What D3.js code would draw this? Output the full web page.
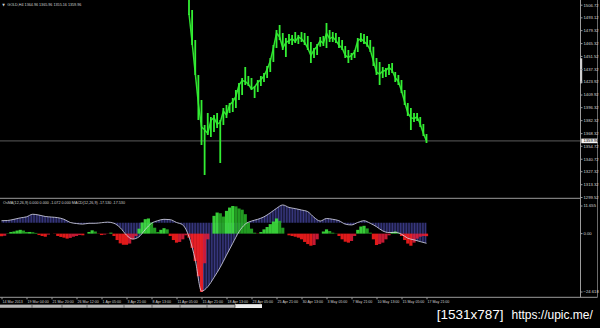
<!DOCTYPE html>
<html><head><meta charset="utf-8">
<script src="https://cdn.jsdelivr.net/npm/d3@7"></script>
<style>html,body{margin:0;padding:0;background:#000;} svg{display:block}</style>
</head><body><svg id="c" width="600" height="328"></svg>
<script>
// ---------- DATA ----------
const symbolInfo = "GOLD,H4  1364.96 1365.96 1355.16 1359.96";
const indicatorInfo = "OsMA(12,26,9) 0.000 0.000 -1.072 0.000  MACD(12,26,9) -17.530 -17.530";
const dateLabels = ["14 Mar 2013","19 Mar 04:00","21 Mar 20:00","26 Mar 12:00","1 Apr 05:00","3 Apr 21:00",
  "8 Apr 13:00","11 Apr 05:00","15 Apr 21:00","18 Apr 13:00","23 Apr 05:00","25 Apr 21:00","30 Apr 13:00",
  "3 May 05:00","7 May 21:00","10 May 13:00","15 May 05:00","17 May 21:00"];
const dateTickBars = [0,16,32,48,64,80,96,112,128,144,160,176,192,208,224,240,256,272];
const priceTicks = [1506.72,1493.12,1479.32,1465.32,1451.52,1437.32,1423.92,1409.92,1396.32,1382.32,
  1368.32,1354.72,1340.72,1327.32,1313.32,1299.52];
const osmaTicks = [11.655, 0, -24.618];
const bidPrice = 1359.96;

// price bars (every 2nd H4 bar, starting at bar 120)
const priceStartBar = 120, priceStep = 2;
const priceHigh = [1533.3,1501.0,1468.7,1431.0,1404.0,1377.1,1390.0,1385.7,1387.9,1390.0,
 1382.5,1395.4,1398.7,1400.8,1406.2,1414.8,1422.4,1427.8,1439.6,1429.9,
 1427.8,1419.1,1425.6,1429.9,1433.1,1440.7,1449.3,1463.3,1479.5,1484.9,
 1476.2,1470.9,1475.2,1474.1,1477.3,1474.1,1477.3,1476.2,1473.0,1466.5,
 1460.1,1464.4,1471.9,1473.0,1487.0,1479.5,1477.3,1476.2,1471.9,1468.7,
 1462.2,1457.9,1454.7,1457.9,1470.9,1476.2,1475.2,1473.0,1468.7,1461.4,
 1449.3,1445.0,1439.6,1438.5,1442.8,1443.9,1434.2,1431.0,1425.6,1414.8,
 1400.8,1395.4,1390.0,1390.0,1385.7,1378.2,1367.4];
const priceLow = [1495.6,1463.3,1431.0,1382.5,1355.6,1323.2,1366.3,1364.2,1369.6,1373.9,
 1336.2,1377.1,1384.7,1390.0,1391.1,1395.4,1404.0,1409.4,1420.2,1419.1,
 1414.8,1406.2,1412.7,1419.1,1423.4,1427.8,1434.2,1445.0,1460.1,1468.7,
 1457.9,1450.4,1464.4,1463.3,1465.5,1464.4,1466.5,1463.3,1457.9,1443.9,
 1449.3,1452.5,1461.4,1462.2,1460.1,1466.5,1466.5,1465.5,1460.1,1457.9,
 1449.3,1443.9,1447.1,1449.3,1455.8,1466.5,1464.4,1461.4,1455.8,1440.7,
 1431.0,1420.2,1427.8,1428.8,1431.0,1433.1,1423.4,1420.2,1411.6,1398.7,
 1386.8,1371.7,1380.3,1381.4,1374.9,1365.3,1357.7];
const priceClose = [1497,1466,1433,1400,1375,1372,1368,1382,1385,1378,
 1380,1392,1388,1399,1402,1408,1420,1425,1424,1421,
 1416,1418,1423,1426,1430,1437,1446,1460,1476,1472,
 1460,1466,1468,1470,1467,1472,1470,1466,1460,1452,
 1458,1462,1468,1465,1476,1470,1472,1468,1463,1460,
 1452,1450,1452,1456,1468,1470,1467,1464,1458,1446,
 1434,1432,1435,1436,1439,1436,1428,1424,1414,1402,
 1390,1385,1384,1386,1378,1368,1359.96];

// MACD main (every 4th bar from bar 0)
const macdStep = 4;
const macdValues = [1.7,1.9,2.9,4.1,5.0,7.2,6.5,5.3,4.8,4.3,
 2.9,0.2,-0.7,-1.2,-0.5,-0.5,0.0,0.5,-0.5,-4.3,
 -10.6,-13.9,-12.0,-5.8,-0.5,1.7,2.9,2.6,0.2,-1.9,
 -12.0,-31.7,-58.3,-54.5,-46.6,-37.9,-27.6,-17.5,-7.7,-1.2,
 1.4,2.9,5.0,8.4,12.2,15.1,13.0,12.0,10.8,9.4,
 4.6,1.4,3.6,2.9,1.7,-1.2,-1.9,0.2,1.7,-0.5,
 -3.4,-7.0,-8.4,-8.2,-9.8,-13.2,-14.6,-16.1,-17.53];

// OsMA (every 2nd bar from bar 0)
const osmaStep = 2;
const osmaValues = [-1.1,-0.9,0.1,0.7,0.9,1.3,1.6,1.3,0.7,0.7,
 0.6,0.3,-0.6,-1.0,-1.3,-0.4,0.0,-0.1,-1.0,-1.4,
 -1.7,-2.1,-1.8,-1.3,-1.0,-0.6,-0.7,0.0,0.7,1.4,
 0.9,-0.1,-0.6,-0.4,-0.1,0.4,-1.0,-2.7,-4.1,-4.7,
 -4.7,-4.2,-2.4,-1.0,2.1,4.7,6.1,6.4,4.7,2.5,
 0.7,1.6,2.3,1.8,-1.0,-2.7,-3.8,-3.5,-2.4,-0.7,
 -1.7,-6.0,-11.6,-18.0,-24.618,-12.5,-2.4,0.0,7.5,8.9,
 8.6,7.2,9.6,11.0,11.655,11.5,10.6,10.1,8.2,4.7,
 2.1,0.4,-0.1,0.7,1.8,2.8,4.0,5.1,6.4,5.4,
 2.5,0.0,-0.7,-1.0,-1.3,-1.7,-2.4,-3.5,-4.4,-5.1,
 -4.8,-2.4,0.0,0.9,1.8,1.1,0.4,0.1,-1.0,-2.4,
 -3.4,-3.8,-3.1,-1.0,1.6,3.0,3.3,2.2,0.4,-2.4,
 -4.8,-4.4,-3.8,-2.4,-0.7,0.7,0.9,0.4,-1.0,-2.7,
 -4.2,-5.1,-3.8,-2.1,-1.3,-1.0,-1.072];

// ---------- DRAW ----------
const svg = d3.select("#c");
const W = 600, H = 328, plotRight = 580.5, winRight = 597.5;
const FONT = "'Liberation Sans', Arial, sans-serif";
svg.append("rect").attr("width", W).attr("height", H).attr("fill", "#000");

const x = d3.scaleLinear().domain([0, 272]).range([1.5, 426.5]);
const yPrice = d3.scaleLinear().domain([1299.52, 1506.72]).range([197, 4.7]);
const yMacd = d3.scaleLinear().domain([-60, 20]).range([293.2, 199.2]);
const yOsma = d3.scaleLinear().domain([-24.618, 11.655]).range([292, 206]);

const defs = svg.append("defs");
defs.append("clipPath").attr("id", "clipMain").append("rect")
  .attr("x", 0).attr("y", 0).attr("width", plotRight).attr("height", 197.5);
defs.append("clipPath").attr("id", "clipSub").append("rect")
  .attr("x", 0).attr("y", 199).attr("width", plotRight).attr("height", 97.5);
const pat = defs.append("pattern").attr("id", "navy").attr("patternUnits", "userSpaceOnUse")
  .attr("width", 1.5625).attr("height", 10);
pat.append("rect").attr("x", 0).attr("y", 0).attr("width", 1.05).attr("height", 10).attr("fill", "#3a3a86");

// main panel
const gMain = svg.append("g").attr("clip-path", "url(#clipMain)");
gMain.append("line").attr("x1", 0).attr("x2", plotRight)
  .attr("y1", yPrice(bidPrice)).attr("y2", yPrice(bidPrice))
  .attr("stroke", "#5c5c5c").attr("stroke-width", 1);
const bars = priceHigh.map((h, j) => ({bar: priceStartBar + j * priceStep, h, l: priceLow[j], c: priceClose[j]}));
gMain.append("path").datum(bars)
  .attr("d", d3.line().x(d => x(d.bar)).y(d => yPrice(d.c)))
  .attr("fill", "none").attr("stroke", "#2fe02f").attr("stroke-width", 1.5);
gMain.selectAll("line.bar").data(bars).join("line").attr("class", "bar")
  .attr("x1", d => x(d.bar)).attr("x2", d => x(d.bar))
  .attr("y1", d => yPrice(d.h)).attr("y2", d => yPrice(d.l))
  .attr("stroke", "#33ee33").attr("stroke-width", 1.8);

svg.append("text").attr("x", 2.2).attr("y", 5.6).attr("fill", "#d0d0d0")
  .attr("font-size", 3.4).attr("font-family", "DejaVu Sans").text("\u25BC");
svg.append("text").attr("x", 7.3).attr("y", 5.6).attr("fill", "#d0d0d0")
  .attr("font-size", 3.9).attr("font-family", FONT)
  .attr("textLength", 74).attr("lengthAdjust", "spacingAndGlyphs").text(symbolInfo);

// sub panel
const gSub = svg.append("g").attr("clip-path", "url(#clipSub)");
const macd = macdValues.map((v, m) => ({bar: m * macdStep, v}));
gSub.append("path").datum(macd)
  .attr("d", d3.area().x(d => x(d.bar)).y0(yMacd(0)).y1(d => yMacd(d.v)).curve(d3.curveMonotoneX))
  .attr("fill", "url(#navy)");
const osma = osmaValues.map((v, k) => ({bar: k * osmaStep, v, prev: k > 0 ? osmaValues[k - 1] : v}));
const bw = x(osmaStep) - x(0);
gSub.selectAll("rect.osma").data(osma).join("rect").attr("class", "osma")
  .attr("x", d => x(d.bar) - bw / 2).attr("width", bw + 0.05)
  .attr("y", d => Math.min(yOsma(0), yOsma(d.v)))
  .attr("height", d => Math.abs(yOsma(d.v) - yOsma(0)))
  .attr("fill-opacity", 0.88)
  .attr("fill", d => d.v >= 0 ? (d.v >= d.prev ? "#3fe83f" : "#27b027") : (d.v <= d.prev ? "#ff1e1e" : "#e01c3a"));
gSub.append("path").datum(macd)
  .attr("d", d3.line().x(d => x(d.bar)).y(d => yMacd(d.v)).curve(d3.curveMonotoneX))
  .attr("fill", "none").attr("stroke", "#dcdcec").attr("stroke-width", 0.8);

svg.append("text").attr("x", 3).attr("y", 204.3).attr("fill", "#d0d0d0")
  .attr("font-size", 3.9).attr("font-family", FONT)
  .attr("textLength", 122).attr("lengthAdjust", "spacingAndGlyphs").text(indicatorInfo);

// frame lines
const lineCol = "#9c9c9c";
svg.append("line").attr("x1", 0).attr("x2", plotRight).attr("y1", 198.3).attr("y2", 198.3).attr("stroke", lineCol).attr("stroke-width", 1);
svg.append("line").attr("x1", 0).attr("x2", winRight).attr("y1", 297.3).attr("y2", 297.3).attr("stroke", lineCol).attr("stroke-width", 1);
svg.append("line").attr("x1", plotRight).attr("x2", plotRight).attr("y1", 0).attr("y2", 297.3).attr("stroke", lineCol).attr("stroke-width", 1);
svg.append("line").attr("x1", winRight).attr("x2", winRight).attr("y1", 0).attr("y2", 297.3).attr("stroke", "#6a6a6a").attr("stroke-width", 1);
svg.append("rect").attr("x", 580).attr("y", 58.3).attr("width", 2.2).attr("height", 25).attr("fill", "#cfcfcf");

// price axis
const gAy = svg.append("g").attr("transform", `translate(${plotRight},0)`)
  .call(d3.axisRight(yPrice).tickValues(priceTicks).tickSize(2).tickPadding(1).tickFormat(d3.format(".2f")))
  .attr("font-size", 4.2).attr("font-family", FONT);
gAy.select(".domain").remove();
gAy.selectAll("line").attr("stroke", lineCol);
gAy.selectAll("text").attr("fill", "#d8d8d8");

// bid box
const by = yPrice(bidPrice);
svg.append("rect").attr("x", 581.3).attr("y", by - 2.3).attr("width", 16.2).attr("height", 4.6).attr("fill", "#f4f4f4");
svg.append("text").attr("x", 583.4).attr("y", by).attr("dy", "0.34em").attr("font-size", 4.2)
  .attr("font-family", FONT).attr("fill", "#000").text(d3.format(".2f")(bidPrice));

// OsMA axis
const gAo = svg.append("g").attr("transform", `translate(${plotRight},0)`)
  .call(d3.axisRight(yOsma).tickValues(osmaTicks).tickSize(2).tickPadding(1)
    .tickFormat(d => d === 0 ? "0.00" : d3.format(".3f")(d)))
  .attr("font-size", 4.2).attr("font-family", FONT);
gAo.select(".domain").remove();
gAo.selectAll("line").attr("stroke", lineCol);
gAo.selectAll("text").attr("fill", "#d8d8d8");
gAo.selectAll(".tick").attr("transform", d => `translate(0,${Math.max(202, Math.min(294.5, yOsma(d)))})`);

// time axis
const gAx = svg.append("g").attr("transform", "translate(0,297.3)")
  .call(d3.axisBottom(x).tickValues(dateTickBars).tickSize(2).tickPadding(1).tickFormat((d, i) => dateLabels[i]))
  .attr("font-size", 3.6).attr("font-family", FONT);
gAx.select(".domain").remove();
gAx.selectAll("line").attr("stroke", lineCol);
gAx.selectAll("text").attr("fill", "#d0d0d0").attr("text-anchor", "start").attr("dx", 0.6);

// tab strip
const tabEdges = [0, 32, 62, 87, 124, 152, 180, 207, 235, 262];
svg.append("rect").attr("x", 0).attr("y", 304.6).attr("width", 262).attr("height", 3.2).attr("fill", "#b4b4b4");
svg.append("rect").attr("x", 235).attr("y", 304.2).attr("width", 27).attr("height", 3.8).attr("fill", "#ececec");
svg.selectAll("line.tab").data(tabEdges.slice(1, -1)).join("line").attr("class", "tab")
  .attr("x1", d => d).attr("x2", d => d).attr("y1", 304.6).attr("y2", 307.8).attr("stroke", "#505050").attr("stroke-width", 0.8);

// watermark
svg.append("text").attr("x", 436.8).attr("y", 318.5).attr("fill", "#fff").attr("font-size", 13.5)
  .attr("font-family", FONT).text("[1531x787]");
svg.append("text").attr("x", 511.5).attr("y", 318.5).attr("fill", "#fff").attr("font-size", 12)
  .attr("font-family", FONT).text("https://upic.me/");
</script></body></html>
